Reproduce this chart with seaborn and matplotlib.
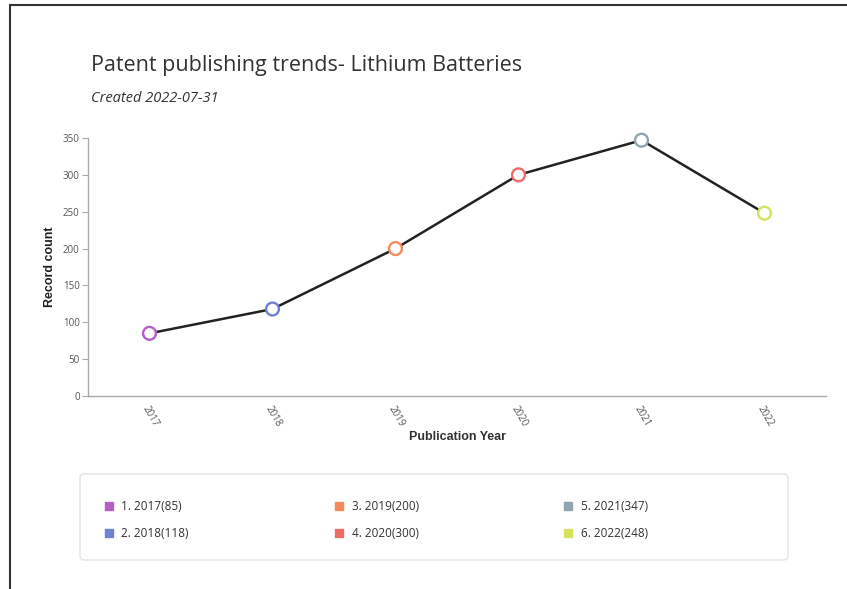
import numpy as np
import pandas as pd
import matplotlib
matplotlib.use("Agg")
import matplotlib.pyplot as plt
import seaborn as sns
from matplotlib.lines import Line2D
from matplotlib.patches import FancyBboxPatch

years = ["2017", "2018", "2019", "2020", "2021", "2022"]
counts = [85, 118, 200, 300, 347, 248]
colors = ["#b35fc8", "#6f80d2", "#f58a5c", "#ef6b66", "#91a6b0", "#d5e25c"]
legend_labels = [f"{i + 1}. {y}({c})" for i, (y, c) in enumerate(zip(years, counts))]

df = pd.DataFrame({"year": years, "count": counts})

sns.set_style("white")
plt.rcParams["font.family"] = ["Open Sans", "DejaVu Sans"]

W, H = 847, 589
fig = plt.figure(figsize=(W / 100, H / 100), dpi=100)
ax = fig.add_axes([88 / W, 1 - 396 / H, (826 - 88) / W, (396 - 138) / H])

# line + hollow markers
sns.lineplot(data=df, x="year", y="count", color="#222222", linewidth=1.8, ax=ax, sort=False)
sns.scatterplot(data=df, x="year", y="count", hue="year", palette=colors, s=85,
                linewidth=1.7, legend=False, ax=ax, zorder=3, clip_on=False)
for coll in ax.collections:
    coll.set_facecolor("white")
    coll.set_edgecolor(colors)
    coll.set_clip_on(False)

ax.set_xlim(-0.5, 5.5)
ax.set_ylim(0, 350)
ax.set_yticks(np.arange(0, 351, 50))
ax.tick_params(axis="y", length=4, color="#aaaaaa", labelsize=7, labelcolor="#555555", pad=2, left=True)
ax.tick_params(axis="x", length=0, labelsize=7, labelcolor="#555555", pad=6)
plt.setp(ax.get_xticklabels(), rotation=-60, ha="left", rotation_mode="anchor")
for s in ["top", "right"]:
    ax.spines[s].set_visible(False)
for s in ["left", "bottom"]:
    ax.spines[s].set_color("#aaaaaa")
    ax.spines[s].set_linewidth(1)

ax.set_xlabel("Publication Year", fontsize=9, fontweight="bold", color="#333333",
              family=["Liberation Sans", "DejaVu Sans"], labelpad=1)
ax.set_ylabel("Record count", fontsize=9, fontweight="bold", color="#222222",
              family=["Liberation Sans", "DejaVu Sans"], labelpad=5)

fig.text(91 / W, 1 - 66 / H, "Patent publishing trends- Lithium Batteries",
         fontsize=15.5, color="#333333", va="center")
fig.text(91 / W, 1 - 99 / H, "Created 2022-07-31", fontsize=10.5,
         style="italic", color="#333333", va="center")

# legend box
box = FancyBboxPatch((80 / W, 1 - 560 / H), (788 - 80) / W, (560 - 474) / H,
                     boxstyle="round,pad=0,rounding_size=0.006", transform=fig.transFigure,
                     facecolor="white", edgecolor="#e4e4e4", linewidth=1)
fig.add_artist(box)

handles = [Line2D([], [], marker="s", linestyle="", markersize=6, color=c) for c in colors]
leg = fig.legend(handles, legend_labels, ncol=3, mode="expand", loc="center",
                 bbox_to_anchor=(79 / W, 1 - 563 / H, (672 - 80) / W, (560 - 474) / H),
                 fontsize=8.5, frameon=False, handletextpad=0.5, handlelength=1.2,
                 labelspacing=1.2, borderpad=1.4)
for t in leg.get_texts():
    t.set_color("#333333")

# outer frame
fig.add_artist(Line2D([10 / W, 10 / W], [0, 1 - 5 / H], color="#333333", linewidth=1.5))
fig.add_artist(Line2D([10 / W, 1], [1 - 5 / H, 1 - 5 / H], color="#333333", linewidth=1.5))

fig.savefig("out.png", dpi=100)
